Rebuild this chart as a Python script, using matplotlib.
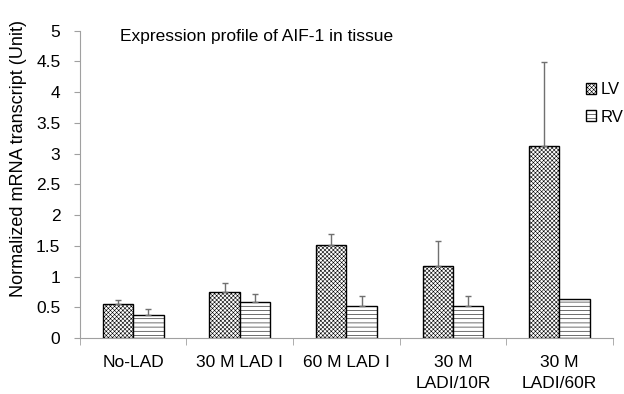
import matplotlib
matplotlib.use('Agg')
import matplotlib.pyplot as plt
import numpy as np

# data
categories = ['No-LAD', '30 M LAD I', '60 M LAD I', '30 M\nLADI/10R', '30 M\nLADI/60R']
lv_values = [0.55, 0.75, 1.51, 1.17, 3.13]
lv_err = [0.07, 0.15, 0.18, 0.41, 1.36]
rv_values = [0.38, 0.59, 0.52, 0.52, 0.64]
rv_err = [0.09, 0.12, 0.16, 0.16, 0.0]
yticks = [0, 0.5, 1, 1.5, 2, 2.5, 3, 3.5, 4, 4.5, 5]
ytick_labels = ['0', '0.5', '1', '1.5', '2', '2.5', '3', '3.5', '4', '4.5', '5']

plt.rcParams['font.family'] = ['Liberation Sans', 'DejaVu Sans']
plt.rcParams['hatch.linewidth'] = 0.4
axis_grey = '#a0a0a0'

fig = plt.figure(figsize=(6.24, 3.94), dpi=100)
ax = fig.add_axes([0.128, 0.142, 0.854, 0.78])

x = np.arange(len(categories))
width = 0.285
err_kw = dict(ecolor='#707070', elinewidth=1.0, capsize=2.5, capthick=1.0)
ax.bar(x - width / 2, lv_values, width, color='white', edgecolor='black',
       hatch='xxxxxxxx', linewidth=1.0, label='LV',
       yerr=[np.zeros(len(lv_err)), lv_err], error_kw=err_kw)
ax.bar(x + width / 2, rv_values, width, color='white', edgecolor='black',
       hatch='----', linewidth=1.0, label='RV')
# only draw error bars where there is one
mask = np.array(rv_err) > 0
ax.errorbar((x + width / 2)[mask], np.array(rv_values)[mask],
            yerr=[np.zeros(mask.sum()), np.array(rv_err)[mask]],
            fmt='none', **err_kw)

ax.set_xlim(-0.5, len(categories) - 0.5)
ax.set_ylim(0, 5)
ax.set_yticks(yticks)
ax.set_yticklabels(ytick_labels, fontsize=12.5)
ax.set_xticks(x)
ax.set_xticklabels(categories, fontsize=12.5, linespacing=1.5)
ax.set_xticks(np.arange(-0.5, len(categories), 1.0), minor=True)
ax.tick_params(axis='x', which='major', length=0, pad=12)
ax.tick_params(axis='x', which='minor', length=5, color=axis_grey)
ax.tick_params(axis='y', length=4, color=axis_grey, pad=10)

for side in ['top', 'right']:
    ax.spines[side].set_visible(False)
for side in ['left', 'bottom']:
    ax.spines[side].set_color(axis_grey)

ax.set_ylabel('Normalized mRNA transcript (Unit)', fontsize=13)
ax.yaxis.set_label_coords(-0.1, 0.585)
ax.text(0.075, 0.98, 'Expression profile of AIF-1 in tissue', transform=ax.transAxes,
        fontsize=12.5, va='center', ha='left')

ax.legend(loc='upper left', bbox_to_anchor=(0.935, 0.86), frameon=False, fontsize=12,
          handlelength=0.6, handleheight=0.6, handletextpad=0.25, labelspacing=0.75,
          borderpad=0)

plt.savefig('out.png', dpi=100)
